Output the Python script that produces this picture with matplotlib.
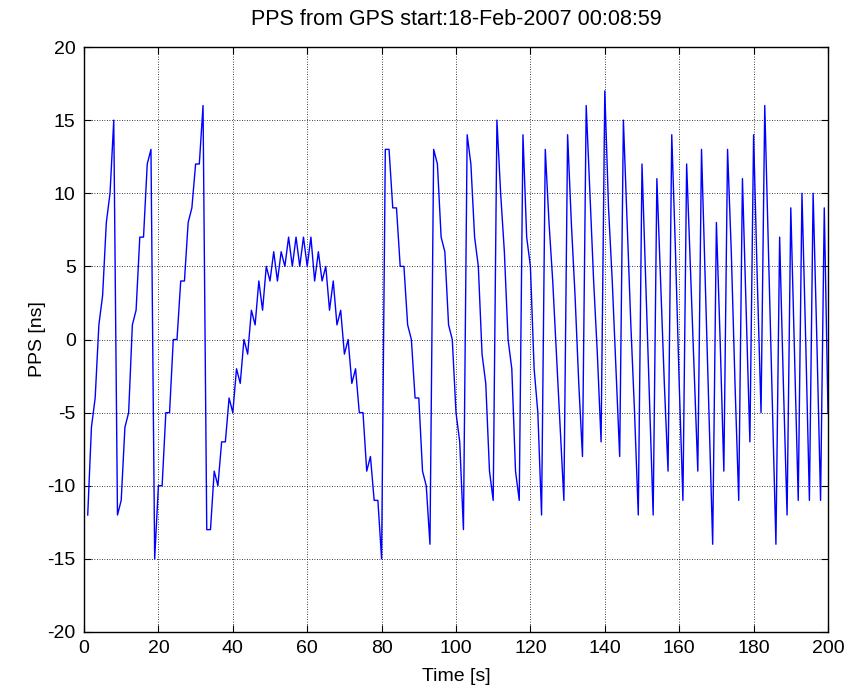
import matplotlib
matplotlib.use("Agg")
import matplotlib.pyplot as plt
from matplotlib import font_manager

# ---- data ----
time_s = list(range(1, 201))
pps_ns = [
    # 1-8
    -12, -6, -4, 1, 3, 8, 10, 15,
    # 9-18
    -12, -11, -6, -5, 1, 2, 7, 7, 12, 13,
    # 19-32
    -15, -10, -10, -5, -5, 0, 0, 4, 4, 8, 9, 12, 12, 16,
    # 33-42
    -13, -13, -9, -10, -7, -7, -4, -5, -2, -3,
    # 43-80
    0, -1, 2, 1, 4, 2, 5, 4, 6, 4, 6, 5, 7, 5, 7, 5, 7, 5, 7, 4,
    6, 4, 5, 2, 4, 1, 2, -1, 0, -3, -2, -5, -5, -9, -8, -11, -11, -15,
    # 81-93
    13, 13, 9, 9, 5, 5, 1, 0, -4, -4, -9, -10, -14,
    # 94-102
    13, 12, 7, 6, 1, 0, -5, -7, -13,
    # 103-110
    14, 12, 7, 5, -1, -3, -9, -11,
    # 111-117
    15, 10, 6, 0, -2, -9, -11,
    # 118-123
    14, 7, 5, -2, -5, -12,
    # 124-129
    13, 8, 4, -1, -6, -11,
    # 130-134
    14, 8, 3, -3, -8,
    # 135-139
    16, 10, 4, -1, -7,
    # 140-144
    17, 9, 4, -2, -8,
    # 145-149
    15, 8, 1, -5, -12,
    # 150-153
    12, 4, -4, -12,
    # 154-157
    11, 4, -3, -9,
    # 158-161
    14, 6, -3, -11,
    # 162-165
    12, 5, -2, -9,
    # 166-169
    13, 4, -5, -14,
    # 170-172
    8, 0, -9,
    # 173-176
    13, 6, -3, -11,
    # 177-179
    11, 2, -7,
    # 180-182
    14, 4, -5,
    # 183-186
    16, 6, -4, -14,
    # 187-189
    7, -3, -12,
    # 190-192
    9, -1, -11,
    # 193-195
    10, 0, -11,
    # 196-198
    10, 0, -11,
    # 199-200
    9, -5,
]
assert len(pps_ns) == len(time_s)

x_ticks = [0, 20, 40, 60, 80, 100, 120, 140, 160, 180, 200]
y_ticks = [-20, -15, -10, -5, 0, 5, 10, 15, 20]
title_text = "PPS from GPS start:18-Feb-2007 00:08:59"
x_label = "Time [s]"
y_label = "PPS [ns]"

# ---- fonts ----
avail = {f.name for f in font_manager.fontManager.ttflist}
fam = []
for name in ["Liberation Sans Narrow", "Liberation Sans", "DejaVu Sans"]:
    if name in avail:
        fam.append(name)
plt.rcParams["font.family"] = fam if fam else ["DejaVu Sans"]

fig = plt.figure(figsize=(8.46, 6.93), dpi=100)
ax = fig.add_axes([84 / 846, 1 - 632 / 693, (828 - 84) / 846, (632 - 47) / 693])

ax.plot(time_s, pps_ns, color=(0, 0, 1), linewidth=1.0)

ax.set_xlim(0, 200)
ax.set_ylim(-20, 20)
ax.set_xticks(x_ticks)
ax.set_yticks(y_ticks)
ax.set_xticklabels([str(v) for v in x_ticks])
ax.set_yticklabels([str(v) for v in y_ticks])
ax.tick_params(direction="in", length=5, width=0.8, labelsize=14,
               top=True, right=True, pad=6, colors="black")
ax.grid(True, color="black", linestyle=(0, (1, 2)), linewidth=0.6)
for s in ax.spines.values():
    s.set_linewidth(1.0)
    s.set_color("black")

ax.set_title(title_text, fontsize=15.5, pad=16)
ax.set_xlabel(x_label, fontsize=14, labelpad=8)
ax.set_ylabel(y_label, fontsize=14, labelpad=1)

fig.savefig("out.png", dpi=100, facecolor="white")
